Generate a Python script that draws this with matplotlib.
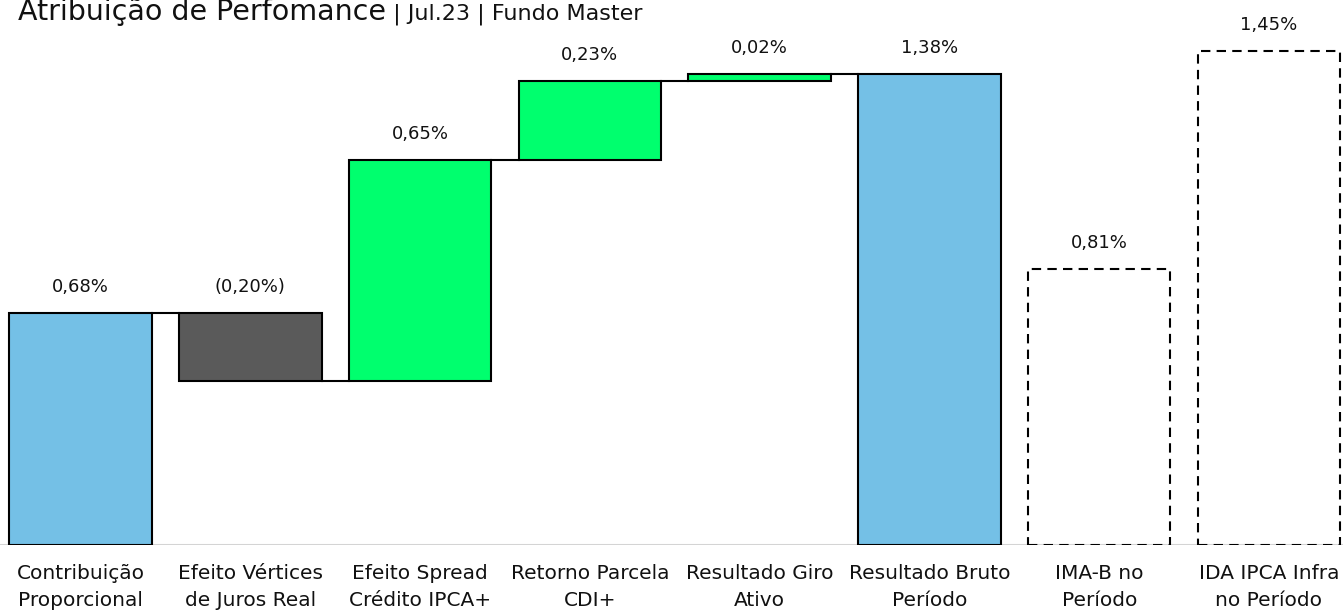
import matplotlib
matplotlib.use('Agg')
import matplotlib.pyplot as plt
import numpy as np

plt.rcParams['font.family'] = ['DejaVu Sans']

# data ------------------------------------------------------------------------

categories = ['Contribuição\nProporcional', 'Efeito Vértices\nde Juros Real',
              'Efeito Spread\nCrédito IPCA+', 'Retorno Parcela\nCDI+',
              'Resultado Giro\nAtivo', 'Resultado Bruto\nPeríodo',
              'IMA-B no\nPeríodo', 'IDA IPCA Infra\nno Período']
values = [0.68, -0.20, 0.65, 0.23, 0.02, 1.38, 0.81, 1.45]
kinds = ['total', 'delta', 'delta', 'delta', 'delta', 'total', 'bench', 'bench']

title_main = 'Atribuição de Perfomance'
title_sub = ' | Jul.23 | Fundo Master'

BLUE = '#74c0e6'
GREEN = '#00ff6e'
GREY = '#5a5a5a'


def fmt(v):
    s = '{:.2f}%'.format(abs(v)).replace('.', ',')
    return '(' + s + ')' if v < 0 else s


# figure ----------------------------------------------------------------------

fig = plt.figure(figsize=(13.43, 6.11), dpi=100)
ax = fig.add_axes([0, 66 / 611, 1, 545 / 611])

x = np.arange(len(values))
width = 0.84
bottoms = []
heights = []
colors = []
styles = []
running = 0.0
for v, k in zip(values, kinds):
    if k == 'delta':
        b = running if v >= 0 else running + v
        bottoms.append(b)
        heights.append(abs(v))
        colors.append(GREEN if v >= 0 else GREY)
        styles.append('-')
        running += v
    else:
        bottoms.append(0)
        heights.append(v)
        colors.append(BLUE if k == 'total' else 'none')
        styles.append('-' if k == 'total' else (0, (4.5, 3)))
        if k == 'total':
            running = v

ax.axhline(0, color='#d4d4d4', lw=1.5, zorder=1)

for xi, b, h, c, ls in zip(x, bottoms, heights, colors, styles):
    ax.bar(xi, h, bottom=b, width=width, color=c, edgecolor='black',
           linewidth=1.5, linestyle=ls, zorder=3)

# connectors
levels = np.cumsum(values[:5])
for i in range(5):
    ax.plot([x[i] + width / 2, x[i + 1] - width / 2], [levels[i], levels[i]],
            color='black', lw=1.5, zorder=2)

# value labels
for xi, b, h, v in zip(x, bottoms, heights, values):
    ax.text(xi, b + h + 0.05, fmt(v), ha='center', va='bottom',
            fontsize=13, color='#111111')

ax.set_xlim(-0.474, 7.436)
ax.set_ylim(0, 545 / 341)
ax.set_xticks(x)
ax.set_xticklabels(categories, fontsize=14.5, linespacing=1.5, color='#111111')
ax.tick_params(axis='x', length=0, pad=14)
ax.set_yticks([])
for s in ax.spines.values():
    s.set_visible(False)

t1 = fig.text(18 / 1343, 1 - 12 / 611, title_main, fontsize=20.5, va='center',
              ha='left', color='#111111')
fig.canvas.draw()
bb = t1.get_window_extent()
fig.text(bb.x1 / 1343, 1 - 14 / 611, title_sub, fontsize=16, va='center',
         ha='left', color='#111111')

fig.savefig('out.png', dpi=100)
